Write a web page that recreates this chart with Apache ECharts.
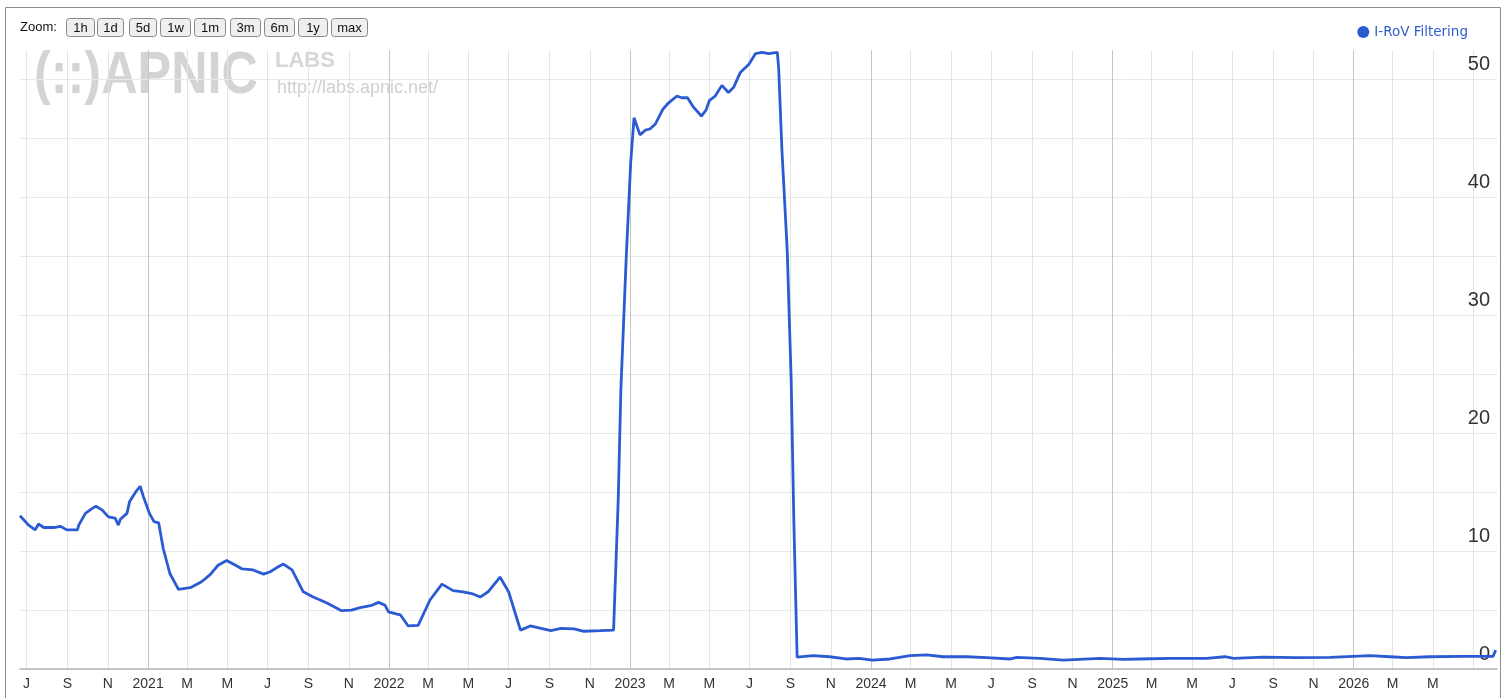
<!DOCTYPE html>
<html><head><meta charset="utf-8">
<script src="https://cdn.jsdelivr.net/npm/echarts@6/dist/echarts.min.js"></script>
<style>html,body{margin:0;padding:0;background:#fff}#c{width:1509px;height:698px}</style>
</head><body><div id="c"></div>
<script>
const seriesName = 'I-RoV Filtering';
const dates = [
'2020-06-21','2020-06-24','2020-07-04','2020-07-14','2020-07-19','2020-07-27','2020-08-11','2020-08-21','2020-08-31','2020-09-16',
'2020-09-18','2020-09-28','2020-10-08','2020-10-14','2020-10-23','2020-11-02','2020-11-12','2020-11-17','2020-11-20','2020-11-30',
'2020-12-04','2020-12-13','2020-12-20','2020-12-25','2021-01-03','2021-01-10','2021-01-17','2021-01-24','2021-02-03','2021-02-16',
'2021-03-06','2021-03-23','2021-04-05','2021-04-17','2021-04-30','2021-05-10','2021-05-23','2021-06-09','2021-06-25','2021-07-05',
'2021-07-15','2021-07-25','2021-08-07','2021-08-24','2021-09-08','2021-09-29','2021-10-21','2021-11-05','2021-11-18','2021-12-06',
'2021-12-16','2021-12-26','2021-12-31','2022-01-13','2022-01-18','2022-01-30','2022-02-14','2022-03-04','2022-03-22','2022-04-08',
'2022-04-23','2022-05-06','2022-05-19','2022-05-31','2022-06-18','2022-07-01','2022-07-19','2022-08-03','2022-08-19','2022-09-03',
'2022-09-18','2022-10-08','2022-10-23','2022-11-17','2022-12-07','2022-12-09','2022-12-14','2022-12-18','2022-12-26','2023-01-02',
'2023-01-07','2023-01-16','2023-01-24','2023-01-31','2023-02-08','2023-02-20','2023-02-28','2023-03-13','2023-03-20','2023-03-29',
'2023-04-07','2023-04-19','2023-04-26','2023-05-01','2023-05-10','2023-05-20','2023-05-30','2023-06-07','2023-06-17','2023-06-30',
'2023-07-10','2023-07-20','2023-07-30','2023-08-12','2023-08-14','2023-08-19','2023-08-27','2023-09-02','2023-09-06','2023-09-11',
'2023-10-05','2023-10-30','2023-11-24','2023-12-14','2024-01-03','2024-01-30','2024-02-29','2024-03-25','2024-04-19','2024-05-25',
'2024-06-24','2024-07-30','2024-08-09','2024-09-13','2024-10-18','2024-12-13','2025-01-17','2025-02-11','2025-03-29','2025-05-23',
'2025-06-20','2025-07-03','2025-08-17','2025-10-07','2025-11-26','2026-01-26','2026-02-25','2026-03-22','2026-04-26','2026-06-16',
'2026-07-31','2026-08-04'
];
const values = [
13.0,12.9,12.2,11.8,12.3,12.0,12.0,12.1,11.8,11.8,
12.2,13.2,13.6,13.8,13.5,12.9,12.8,12.2,12.7,13.2,
14.2,15.0,15.5,14.6,13.2,12.5,12.4,10.2,8.1,6.75,
6.9,7.4,8.0,8.8,9.2,8.9,8.5,8.4,8.05,8.25,
8.6,8.9,8.4,6.55,6.1,5.6,4.95,5.0,5.2,5.4,
5.65,5.4,4.85,4.66,4.6,3.65,3.7,5.85,7.2,6.65,
6.55,6.4,6.1,6.55,7.8,6.55,3.3,3.65,3.45,3.25,
3.45,3.4,3.2,3.25,3.3,3.3,14.3,23.6,34.7,43.0,
46.75,45.3,45.7,45.8,46.2,47.5,48.0,48.6,48.45,48.45,
47.65,46.9,47.4,48.2,48.6,49.5,48.9,49.35,50.6,51.3,
52.2,52.3,52.2,52.3,51.0,44.0,35.5,24.5,12.6,1.0,
1.13,1.04,0.85,0.9,0.76,0.85,1.13,1.19,1.04,1.04,
0.96,0.85,0.99,0.9,0.76,0.9,0.82,0.85,0.9,0.9,
1.04,0.9,1.0,0.96,0.99,1.13,1.04,0.96,1.04,1.07,
1.07,1.6
];
const xTickDates = [
'2020-07-01','2020-09-01','2020-11-01','2021-01-01','2021-03-01','2021-05-01','2021-07-01','2021-09-01','2021-11-01',
'2022-01-01','2022-03-01','2022-05-01','2022-07-01','2022-09-01','2022-11-01','2023-01-01','2023-03-01','2023-05-01',
'2023-07-01','2023-09-01','2023-11-01','2024-01-01','2024-03-01','2024-05-01','2024-07-01','2024-09-01','2024-11-01',
'2025-01-01','2025-03-01','2025-05-01','2025-07-01','2025-09-01','2025-11-01','2026-01-01','2026-03-01','2026-05-01','2026-07-01'
];
const xLabelDates = xTickDates.slice(0, xTickDates.length - 1);
const monthLetters = {2:'M', 4:'M', 6:'J', 8:'S', 10:'N'};
const yLabelValues = [0, 10, 20, 30, 40, 50];
const zoomButtons = ['1h','1d','5d','1w','1m','3m','6m','1y','max'];

function ts(s){ const p = s.split('-').map(Number); return Date.UTC(p[0], p[1]-1, p[2]); }

const blue = '#2b5bd2';
const font = '"Liberation Sans", Arial, sans-serif';

const btnX = [66, 97, 129, 160, 194, 230, 264, 298, 331];
const btnW = [28, 26, 27, 30, 31, 30, 30, 29, 36];
const graphics = [];
graphics.push({type:'rect', shape:{x:5.5, y:7.5, width:1495, height:705}, style:{fill:'none', stroke:'#8c8c8c', lineWidth:1}, silent:true, z:-20});
graphics.push({type:'text', x:20, y:27, style:{text:'Zoom:', font:'13px ' + font, fill:'#111', textVerticalAlign:'middle'}});
zoomButtons.forEach((b, i) => {
  graphics.push({type:'rect', shape:{x:btnX[i]+0.5, y:18.5, width:btnW[i], height:18, r:3}, style:{fill:'#efefef', stroke:'#8a8a8a', lineWidth:1}});
  graphics.push({type:'text', x:btnX[i]+0.5+btnW[i]/2, y:28, style:{text:b, font:'13px ' + font, fill:'#111', textAlign:'center', textVerticalAlign:'middle'}});
});
graphics.push({type:'text', x:34, y:76, scaleX:0.8, scaleY:0.95, z:-10, silent:true, style:{text:'(::)APNIC', font:'bold 63px ' + font, fill:'#cdcdcd', opacity:0.85, textVerticalAlign:'middle'}});
graphics.push({type:'text', x:275, y:61, z:-10, silent:true, style:{text:'LABS', font:'bold 22px ' + font, fill:'#d6d6d6', textVerticalAlign:'middle'}});
graphics.push({type:'text', x:277, y:88, z:-10, silent:true, style:{text:'http://labs.apnic.net/', font:'18px ' + font, fill:'#d0d0d0', textVerticalAlign:'middle'}});

const chart = echarts.init(document.getElementById('c'), null, {renderer:'canvas'});
chart.setOption({
  animation:false,
  backgroundColor:'#fff',
  grid:{left:20, right:12, top:50, bottom:29, containLabel:false},
  legend:{
    data:[seriesName], right:36, top:20, icon:'circle', itemWidth:12, itemHeight:12, itemGap:10,
    textStyle:{color:'#2f5ccf', fontSize:13.5, fontFamily:'"DejaVu Sans", sans-serif'},
    selectedMode:false
  },
  xAxis:{
    type:'value', min:ts('2020-06-21'), max:ts('2026-08-06'),
    axisLine:{show:true, lineStyle:{color:'#b3b3b3', width:1.5}},
    axisTick:{show:false, customValues: xTickDates.map(ts)},
    axisLabel:{
      customValues: xLabelDates.map(ts), color:'#333', fontSize:14, margin:8, fontFamily:font,
      formatter: function(v){ const d = new Date(v); const m = d.getUTCMonth(); return m === 0 ? String(d.getUTCFullYear()) : (monthLetters[m] || ''); }
    },
    splitLine:{show:true, lineStyle:{color:['#e4e4e4','#e4e4e4','#e4e4e4','#c6c6c6','#e4e4e4','#e4e4e4'], width:1}}
  },
  yAxis:{
    type:'value', position:'right', min:0, max:52.5, interval:5,
    axisLine:{show:false}, axisTick:{show:false},
    axisLabel:{inside:true, margin:7, fontSize:20, color:'#333', fontFamily:font, verticalAlign:'bottom', padding:[0,0,5,0],
      showMaxLabel:false, formatter: v => yLabelValues.indexOf(v) >= 0 ? String(v) : ''},
    splitLine:{show:true, showMaxLine:false, lineStyle:{color:'#e8e8f1', width:1}}
  },
  series:[{
    name:seriesName, type:'line', showSymbol:false, symbol:'circle',
    data: dates.map((d, i) => [ts(d), values[i]]),
    lineStyle:{color:blue, width:2.8}, itemStyle:{color:blue}, z:5
  }],
  graphic: graphics
});
</script></body></html>
